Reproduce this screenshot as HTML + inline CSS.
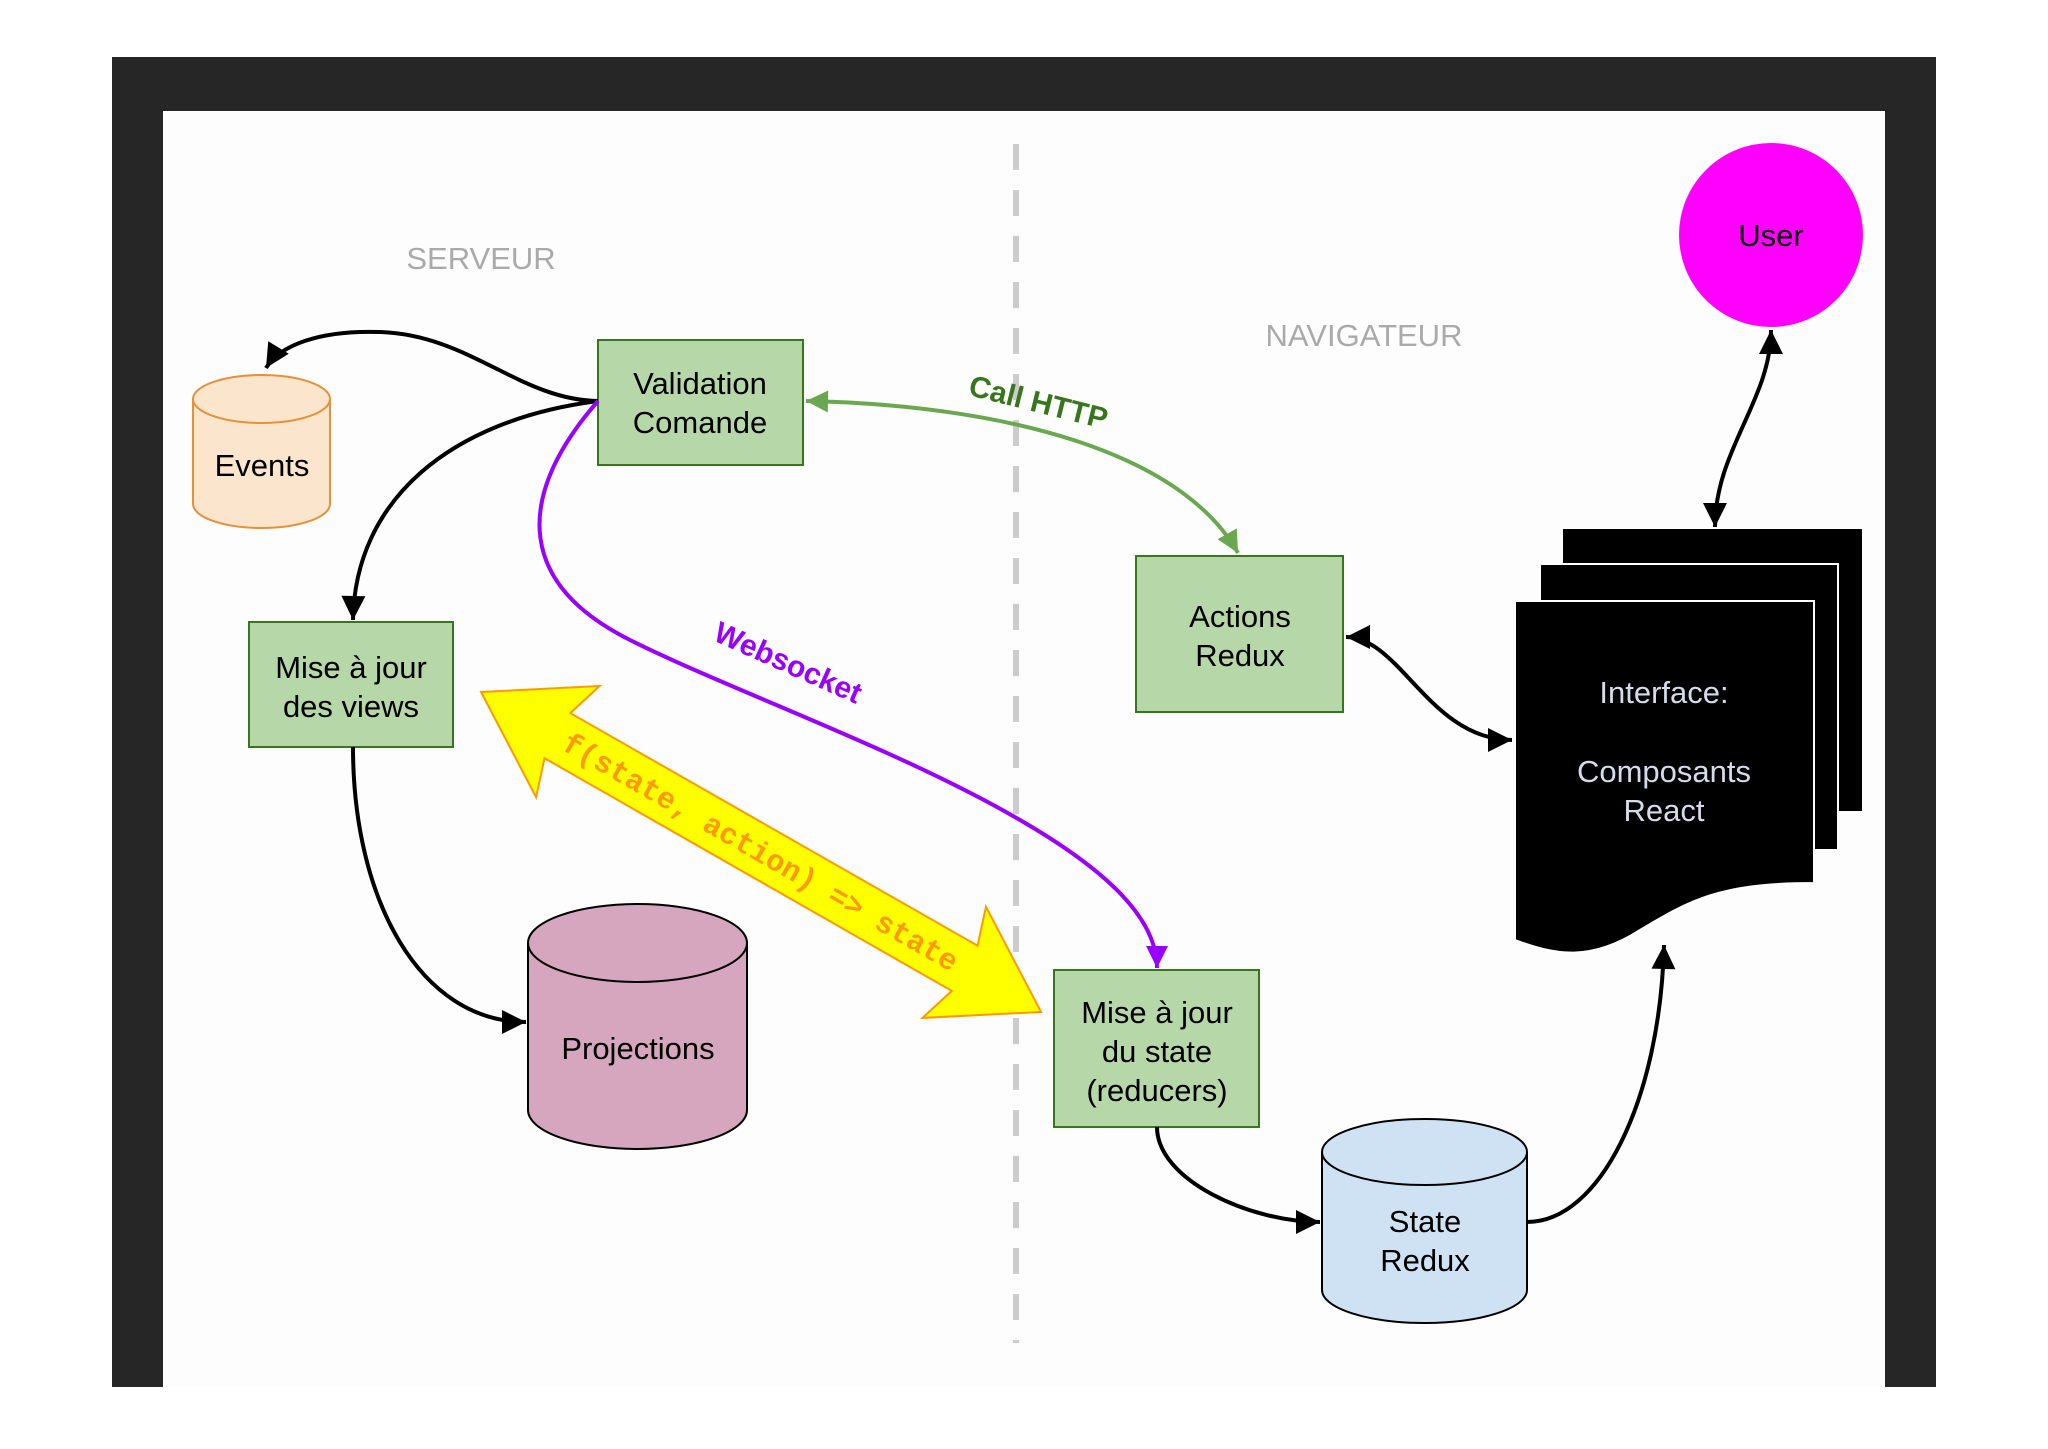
<!DOCTYPE html>
<html><head><meta charset="utf-8"><style>
html,body{margin:0;padding:0;background:#fff;}
svg{display:block;}
.s{font-family:"Liberation Sans",sans-serif;}
</style></head><body>
<svg width="2048" height="1449" viewBox="0 0 2048 1449" xmlns="http://www.w3.org/2000/svg" class="s">
<defs>
<marker id="ag" viewBox="0 0 10 10" refX="10" refY="5" markerWidth="26" markerHeight="22" orient="auto-start-reverse" markerUnits="userSpaceOnUse">
<path d="M0,0 L10,5 L0,10 z" fill="#6aa84f"/>
</marker>
<marker id="ak" viewBox="0 0 10 10" refX="10" refY="5" markerWidth="28" markerHeight="24" orient="auto-start-reverse" markerUnits="userSpaceOnUse">
<path d="M0,0 L10,5 L0,10 z" fill="#000"/>
</marker>
<marker id="ap" viewBox="0 0 10 10" refX="10" refY="5" markerWidth="26" markerHeight="22" orient="auto" markerUnits="userSpaceOnUse">
<path d="M0,0 L10,5 L0,10 z" fill="#9900ff"/>
</marker>
</defs>
<rect x="0" y="0" width="2048" height="1449" fill="#fff"/>
<rect x="112" y="57" width="1824" height="1330" fill="#262626"/>
<rect x="163" y="111" width="1722" height="1276" fill="#fdfdfd"/>
<line x1="1016" y1="144" x2="1016" y2="1343" stroke="#cccccc" stroke-width="6" stroke-dasharray="26 20"/>
<text x="481" y="269" font-size="31" fill="#aaaaaa" text-anchor="middle">SERVEUR</text>
<text x="1364" y="346" font-size="31" fill="#aaaaaa" text-anchor="middle">NAVIGATEUR</text>

<ellipse cx="1771" cy="235" rx="92" ry="92" fill="#ff00ff"/>
<text x="1771" y="246" font-size="31" fill="#000" text-anchor="middle">User</text>

<path d="M193,399 L193,504 A68.5,24 0 0 0 330,504 L330,399" fill="#fce5cd" stroke="#e69138" stroke-width="2"/>
<ellipse cx="261.5" cy="399" rx="68.5" ry="24" fill="#fce5cd" stroke="#e69138" stroke-width="2"/>
<text x="262" y="476" font-size="31" text-anchor="middle">Events</text>

<path d="M528,943 L528,1110 A109.5,39 0 0 0 747,1110 L747,943" fill="#d5a6bd" stroke="#000" stroke-width="2"/>
<ellipse cx="637.5" cy="943" rx="109.5" ry="39" fill="#d5a6bd" stroke="#000" stroke-width="2"/>
<text x="638" y="1059" font-size="31" text-anchor="middle">Projections</text>

<path d="M1322,1152 L1322,1290 A102.5,33 0 0 0 1527,1290 L1527,1152" fill="#cfe2f3" stroke="#000" stroke-width="2"/>
<ellipse cx="1424.5" cy="1152" rx="102.5" ry="33" fill="#cfe2f3" stroke="#000" stroke-width="2"/>
<text x="1425" y="1232" font-size="31" text-anchor="middle">State</text>
<text x="1425" y="1271" font-size="31" text-anchor="middle">Redux</text>

<g fill="#b6d7a8" stroke="#38761d" stroke-width="2">
<rect x="598" y="340" width="205" height="125"/>
<rect x="249" y="622" width="204" height="125"/>
<rect x="1136" y="556" width="207" height="156"/>
<rect x="1054" y="970" width="205" height="157"/>
</g>
<g font-size="31" text-anchor="middle" fill="#000">
<text x="700" y="394">Validation</text><text x="700" y="433">Comande</text>
<text x="351" y="678">Mise à jour</text><text x="351" y="717">des views</text>
<text x="1240" y="627">Actions</text><text x="1240" y="666">Redux</text>
<text x="1157" y="1023">Mise à jour</text><text x="1157" y="1062">du state</text><text x="1157" y="1101">(reducers)</text>
</g>

<rect x="1563" y="529" width="299" height="282" fill="#000"/>
<rect x="1540" y="564" width="298" height="286" fill="#000" stroke="#fff" stroke-width="2"/>
<path d="M1515,601 L1814,601 L1814,883 C1720,883 1690,900 1640,930 C1590,962 1555,955 1515,940 Z" fill="#000" stroke="#fff" stroke-width="2"/>
<g font-size="31" text-anchor="middle" fill="#d4dcec">
<text x="1664" y="703">Interface:</text>
<text x="1664" y="782">Composants</text>
<text x="1664" y="821">React</text>
</g>

<g transform="translate(481,692) rotate(29.74)">
<polygon points="0,0 100,-64 88,-26 557,-26 545,-64 645,0 545,64 557,26 88,26 100,64" fill="#ffff00" stroke="#ff9900" stroke-width="2"/>
<text x="322" y="10" style="font-family:'Liberation Mono',monospace;font-size:30px;font-weight:bold" fill="#ff9900" text-anchor="middle">f(state, action) =&gt; state</text>
</g>

<g fill="none" stroke="#000" stroke-width="4">
<path d="M598,401 C520,400 470,335 380,332 C320,330 280,345 266,368" marker-end="url(#ak)"/>
<path d="M598,401 C450,420 355,500 353,620" marker-end="url(#ak)"/>
<path d="M353,747 C353,900 420,1022 526,1022" marker-end="url(#ak)"/>
<path d="M1346,637 C1400,637 1430,740 1512,740" marker-start="url(#ak)" marker-end="url(#ak)"/>
<path d="M1771,330 C1771,400 1715,450 1715,527" marker-start="url(#ak)" marker-end="url(#ak)"/>
<path d="M1157,1127 C1157,1180 1250,1222 1320,1222" marker-end="url(#ak)"/>
<path d="M1527,1222 C1600,1222 1660,1100 1664,945" marker-end="url(#ak)"/>
</g>
<path d="M598,401 C520,490 510,580 630,640 C730,690 900,750 1020,820 C1110,872 1157,920 1157,968" fill="none" stroke="#9900ff" stroke-width="4" marker-end="url(#ap)"/>
<path d="M806,401 C1000,405 1180,450 1238,553" fill="none" stroke="#6aa84f" stroke-width="4" marker-start="url(#ag)" marker-end="url(#ag)"/>

<text transform="translate(1036,412) rotate(14)" font-size="30" font-weight="bold" fill="#38761d" text-anchor="middle">Call HTTP</text>
<text transform="translate(784,672) rotate(24)" font-size="30" font-weight="bold" fill="#9900ff" text-anchor="middle">Websocket</text>
</svg>
</body></html>
